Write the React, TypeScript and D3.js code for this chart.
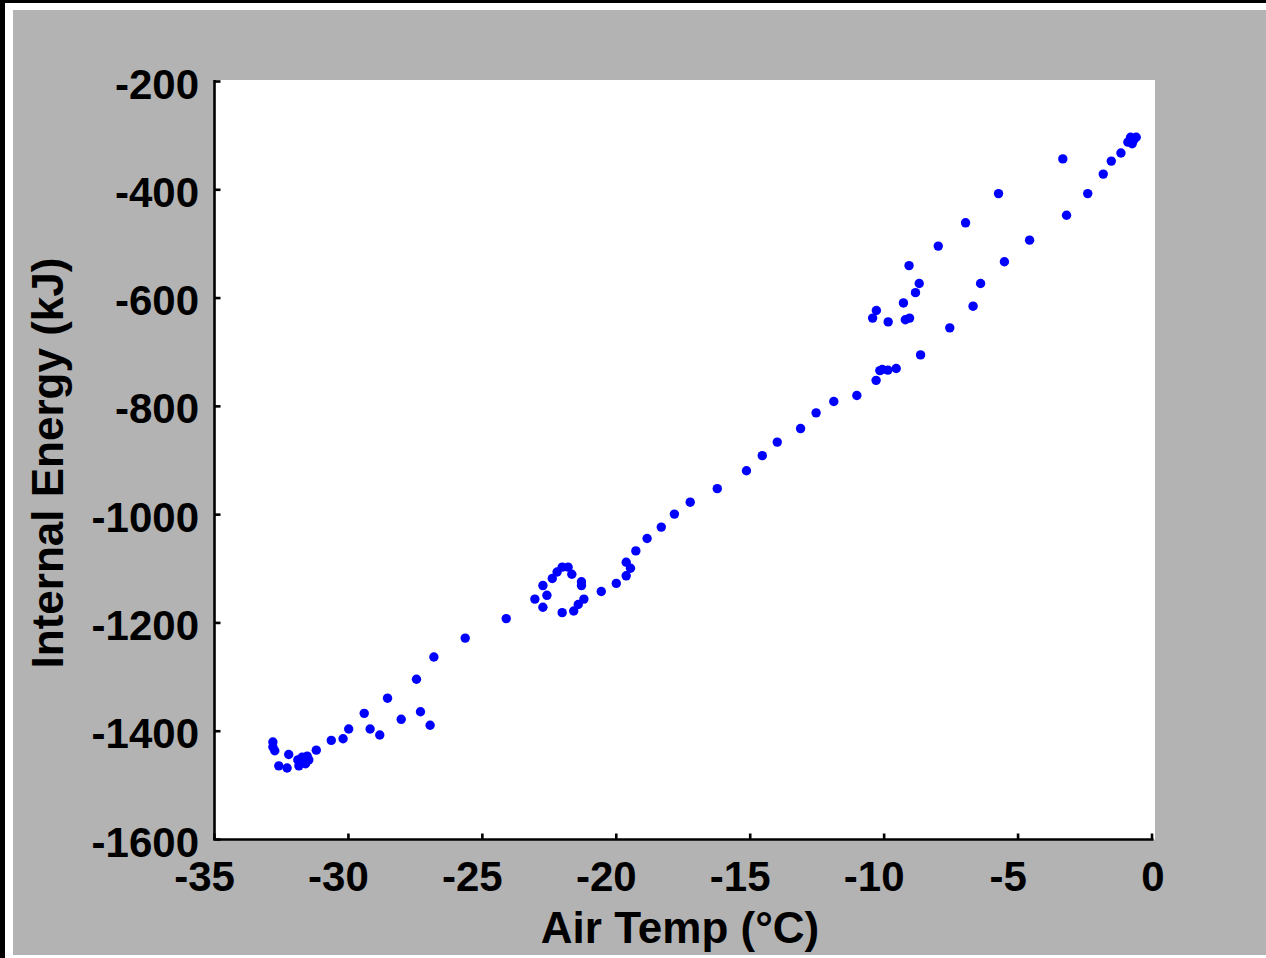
import React from "react";
import * as d3 from "d3";

// Data (Air Temp °C, Internal Energy kJ)
const airTemp: number[] = [
  -32.82, -32.82, -32.75, -32.60, -32.29, -32.23, -31.89, -31.73, -31.54, -31.48,
  -31.60, -31.85, -31.69, -31.20, -30.64, -30.20, -29.99, -29.41, -29.19, -28.83,
  -28.54, -28.03, -27.46, -27.31, -26.95, -26.81, -25.64, -24.11,
  -23.04, -22.74, -22.74, -22.59, -22.39, -22.21, -22.02, -21.80, -21.66, -21.30,
  -21.30, -21.21, -21.42, -21.59, -22.02,
  -20.56, -20.00, -19.63, -19.47, -19.63, -19.27, -18.85, -18.32, -17.83, -17.24,
  -16.23, -15.14, -14.55, -13.99, -13.12, -12.54, -11.88, -11.02, -10.30, -10.16,
  -10.07, -9.86, -9.55, -8.64,
  -10.43, -10.29, -9.85, -9.21, -9.05, -9.28, -8.83, -8.69, -9.07, -7.98, -6.96,
  -5.73, -3.33,
  -7.55, -6.68, -6.40, -5.51, -4.57, -3.19, -2.40, -1.82, -1.52, -1.16, -0.90,
  -0.80, -0.59, -0.74, -0.68,
];
const internalEnergy: number[] = [
  -1420, -1429, -1436, -1464, -1468, -1443, -1453, -1448, -1446, -1453,
  -1460, -1464, -1458, -1435, -1417, -1414, -1396, -1367, -1396, -1407,
  -1339, -1378, -1304, -1364, -1389, -1263, -1228, -1192,
  -1156, -1171, -1131, -1149, -1118, -1106, -1097, -1097, -1110, -1124,
  -1131, -1156, -1166, -1178, -1181,
  -1142, -1127, -1113, -1099, -1088, -1067, -1044, -1023, -999, -977,
  -952, -919, -891, -866, -841, -812, -791, -780, -752, -734,
  -732, -733, -730, -705,
  -637, -623, -644, -640, -637, -609, -590, -573, -540, -504, -461,
  -407, -343,
  -655, -615, -573, -533, -493, -447, -407, -371, -347, -332, -312,
  -303, -303, -315, -308,
];
const xTicks: number[] = [-35, -30, -25, -20, -15, -10, -5, 0];
const yTicks: number[] = [-200, -400, -600, -800, -1000, -1200, -1400, -1600];
const xLabel = "Air Temp (°C)";
const yLabel = "Internal Energy (kJ)";

const W = 1266;
const H = 958;
const FONT = "'Liberation Sans', Arial, Helvetica, sans-serif";

export default function App() {
  const x = d3.scaleLinear().domain([-35, 0]).range([214.5, 1152]);
  const y = d3.scaleLinear().domain([-1600, -200]).range([839.5, 81.5]);
  const points = d3.zip(airTemp, internalEnergy);
  const axisX = x(-35);
  const axisY = y(-1600);
  const tickLen = 6;

  return (
    <svg
      width={W}
      height={H}
      style={{ position: "absolute", left: 0, top: 0, display: "block" }}
      fontFamily={FONT}
    >
      <rect x={0} y={0} width={W} height={H} fill="#000" />
      <rect x={5} y={3} width={W - 5} height={H - 3} fill="#fff" />
      <rect x={13} y={10} width={W - 13} height={945} fill="#b3b3b3" />
      {/* plot area */}
      <rect x={axisX} y={80} width={1155 - axisX} height={axisY - 80} fill="#fff" />

      {/* points */}
      <g fill="#0000ff">
        {points.map(([a, b], i) => (
          <circle key={i} cx={x(a)} cy={y(b)} r={4.7} />
        ))}
      </g>

      {/* axes lines */}
      <line x1={axisX} y1={80} x2={axisX} y2={axisY} stroke="#000" strokeWidth={2.6} />
      <line x1={axisX - 1.3} y1={axisY} x2={x(0) + 1.5} y2={axisY} stroke="#000" strokeWidth={2.6} />

      {/* y ticks */}
      {yTicks.map((t) => (
        <g key={"y" + t}>
          <line x1={axisX} y1={y(t)} x2={axisX + tickLen} y2={y(t)} stroke="#000" strokeWidth={2.6} />
          <text
            x={199}
            y={y(t) + 17}
            textAnchor="end"
            fontSize={42}
            fontWeight="bold"
            fill="#000"
          >
            {t}
          </text>
        </g>
      ))}

      {/* x ticks */}
      {xTicks.map((t) => (
        <g key={"x" + t}>
          <line x1={x(t)} y1={axisY} x2={x(t)} y2={axisY - tickLen} stroke="#000" strokeWidth={2.6} />
          <text
            x={x(t) + (t < 0 ? -10 : 1)}
            y={891}
            textAnchor="middle"
            fontSize={42}
            fontWeight="bold"
            fill="#000"
          >
            {t}
          </text>
        </g>
      ))}

      {/* axis labels */}
      <text x={680} y={943} textAnchor="middle" fontSize={44} fontWeight="bold" fill="#000">
        {xLabel}
      </text>
      <text
        transform={`translate(63, 463) rotate(-90)`}
        textAnchor="middle"
        fontSize={44}
        fontWeight="bold"
        fill="#000"
      >
        {yLabel}
      </text>
    </svg>
  );
}
